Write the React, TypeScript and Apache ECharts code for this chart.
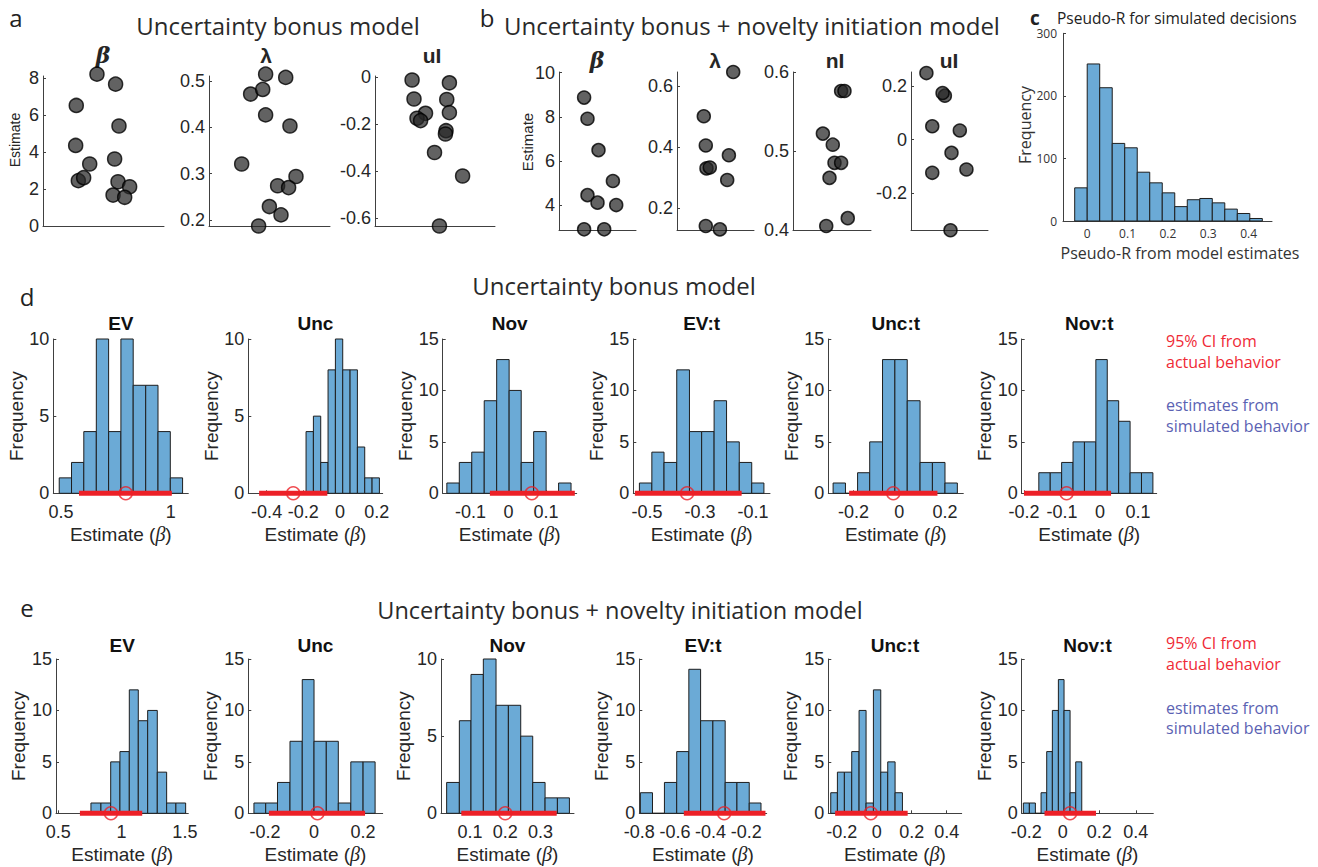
import React, { useEffect, useRef } from 'react';
import * as echarts from 'echarts';

// ---------------- Panel a : Uncertainty bonus model (parameter estimates) ----------------
const aBetaJitter = [0.446, 0.6, 0.275, 0.628, 0.27, 0.386, 0.592, 0.292, 0.336, 0.62, 0.716, 0.579, 0.675];
const aBetaValues = [8.2, 7.66, 6.51, 5.4, 4.35, 3.35, 3.62, 2.45, 2.61, 2.39, 2.12, 1.67, 1.55];
const aLambdaJitter = [0.468, 0.634, 0.344, 0.444, 0.468, 0.669, 0.27, 0.719, 0.567, 0.658, 0.499, 0.595, 0.41];
const aLambdaValues = [0.515, 0.508, 0.472, 0.482, 0.427, 0.403, 0.321, 0.294, 0.274, 0.27, 0.229, 0.211, 0.187];
const aUIJitter = [0.309, 0.62, 0.325, 0.598, 0.62, 0.421, 0.35, 0.38, 0.592, 0.587, 0.496, 0.73, 0.537];
const aUIValues = [-0.011, -0.023, -0.092, -0.094, -0.15, -0.153, -0.174, -0.184, -0.227, -0.241, -0.32, -0.42, -0.633];
const aBetaTicks = [0, 2, 4, 6, 8];
const aLambdaTicks = [0.2, 0.3, 0.4, 0.5];
const aUITicks = [-0.6, -0.4, -0.2, 0];

// ---------------- Panel b : Uncertainty bonus + novelty initiation model ----------------
const bBetaJitter = [0.326, 0.37, 0.513, 0.7, 0.37, 0.5, 0.743, 0.326, 0.587];
const bBetaValues = [8.87, 7.91, 6.49, 5.09, 4.45, 4.11, 4.0, 2.9, 2.9];
const bLambdaJitter = [0.73, 0.348, 0.374, 0.674, 0.383, 0.426, 0.652, 0.374, 0.557];
const bLambdaValues = [0.647, 0.502, 0.406, 0.374, 0.331, 0.334, 0.293, 0.142, 0.131];
const bNIJitter = [0.617, 0.66, 0.383, 0.51, 0.532, 0.617, 0.468, 0.702, 0.426];
const bNIValues = [0.576, 0.576, 0.522, 0.508, 0.485, 0.485, 0.466, 0.415, 0.405];
const bUIJitter = [0.2, 0.44, 0.41, 0.276, 0.634, 0.526, 0.72, 0.276, 0.513];
const bUIValues = [0.25, 0.165, 0.175, 0.05, 0.034, -0.05, -0.1125, -0.125, -0.341];
const bBetaTicks = [4, 6, 8, 10];
const bLambdaTicks = [0.2, 0.4, 0.6];
const bNITicks = [0.4, 0.5, 0.6];
const bUITicks = [-0.2, 0, 0.2];

// ---------------- Panel c : Pseudo-R histogram ----------------
const cEdges = [-0.031, 0, 0.031, 0.062, 0.093, 0.124, 0.155, 0.186, 0.217, 0.248, 0.279, 0.31, 0.341, 0.372, 0.403, 0.434];
const cCounts = [53, 251, 213, 124, 117, 78, 61, 45, 23, 34, 36, 29, 19, 12, 4];
const cXTicks = [0, 0.1, 0.2, 0.3, 0.4];
const cYTicks = [0, 100, 200, 300];

// ---------------- Row d : Uncertainty bonus model ----------------
const dTitles = ['EV', 'Unc', 'Nov', 'EV:t', 'Unc:t', 'Nov:t'];
const dEVEdges = [0.492, 0.548, 0.604, 0.661, 0.717, 0.773, 0.829, 0.886, 0.942, 0.998, 1.054];
const dEVCounts = [1, 2, 4, 10, 4, 10, 7, 7, 4, 1];
const dUncEdges = [-0.185, -0.145, -0.105, -0.065, -0.025, 0.015, 0.055, 0.095, 0.135, 0.175, 0.215];
const dUncCounts = [4, 5, 2, 8, 10, 8, 8, 3, 1, 1];
const dNovEdges = [-0.163, -0.13, -0.097, -0.064, -0.031, 0.002, 0.034, 0.067, 0.1, 0.133, 0.166];
const dNovCounts = [1, 3, 4, 9, 13, 10, 3, 6, 0, 1];
const dEVtEdges = [-0.529, -0.482, -0.436, -0.388, -0.34, -0.294, -0.247, -0.2, -0.152, -0.105, -0.059];
const dEVtCounts = [1, 4, 3, 12, 6, 6, 9, 5, 3, 1];
const dUnctEdges = [-0.289, -0.235, -0.182, -0.129, -0.073, -0.019, 0.035, 0.091, 0.145, 0.2, 0.254];
const dUnctCounts = [1, 0, 2, 5, 13, 13, 9, 3, 3, 1];
const dNovtEdges = [-0.161, -0.131, -0.101, -0.071, -0.041, -0.011, 0.019, 0.049, 0.079, 0.109, 0.139];
const dNovtCounts = [2, 2, 3, 5, 5, 13, 9, 7, 2, 2];
const dCILow = [0.582, -0.441, -0.049, -0.546, -0.219, -0.2];
const dCIHigh = [1.005, -0.069, 0.176, -0.143, 0.167, 0.029];
const dEstimate = [0.795, -0.255, 0.062, -0.349, -0.026, -0.088];
const dXMin = [0.465, -0.5, -0.174, -0.552, -0.31, -0.206];
const dXMax = [1.08, 0.233, 0.181, -0.036, 0.28, 0.149];
const dXTicks = [[0.5, 1], [-0.4, -0.2, 0, 0.2], [-0.1, 0, 0.1], [-0.5, -0.3, -0.1], [-0.2, 0, 0.2], [-0.2, -0.1, 0, 0.1]];
const dYMax = [10, 10, 15, 15, 15, 15];

// ---------------- Row e : Uncertainty bonus + novelty initiation model ----------------
const eTitles = ['EV', 'Unc', 'Nov', 'EV:t', 'Unc:t', 'Nov:t'];
const eEVEdges = [0.758, 0.837, 0.914, 0.987, 1.061, 1.132, 1.206, 1.282, 1.356, 1.429, 1.506];
const eEVCounts = [1, 1, 5, 6, 12, 9, 10, 4, 1, 1];
const eUncEdges = [-0.245, -0.197, -0.149, -0.098, -0.048, 0, 0.05, 0.099, 0.15, 0.2, 0.249];
const eUncCounts = [1, 1, 3, 7, 13, 7, 7, 1, 5, 5];
const eNovEdges = [0.034, 0.07, 0.103, 0.138, 0.174, 0.209, 0.244, 0.278, 0.313, 0.348, 0.382];
const eNovCounts = [2, 6, 9, 10, 7, 7, 5, 2, 1, 1];
const eEVtEdges = [-0.794, -0.726, -0.659, -0.59, -0.522, -0.456, -0.387, -0.318, -0.252, -0.183, -0.117];
const eEVtCounts = [2, 0, 3, 6, 14, 9, 9, 3, 3, 1];
const eUnctEdges = [-0.263, -0.225, -0.185, -0.143, -0.101, -0.061, -0.019, 0.023, 0.063, 0.105, 0.147];
const eUnctCounts = [2, 4, 4, 6, 10, 1, 12, 4, 5, 2];
const eNovtEdges = [-0.216, -0.183, -0.15, -0.119, -0.088, -0.057, -0.024, 0.007, 0.04, 0.071, 0.104];
const eNovtCounts = [1, 1, 0, 2, 6, 10, 13, 10, 2, 5];
const eCILow = [0.671, -0.184, 0.0755, -0.55, -0.238, -0.1];
const eCIHigh = [1.163, 0.208, 0.346, -0.092, 0.177, 0.182];
const eEstimate = [0.916, 0.014, 0.2, -0.324, -0.034, 0.04];
const eXMin = [0.482, -0.268, 0.018, -0.8, -0.277, -0.225];
const eXMax = [1.527, 0.28, 0.395, -0.085, 0.486, 0.496];
const eXTicks = [[0.5, 1, 1.5], [-0.2, 0, 0.2], [0.1, 0.2, 0.3], [-0.8, -0.6, -0.4, -0.2], [-0.2, 0, 0.2, 0.4], [-0.2, 0, 0.2, 0.4]];
const eYMax = [15, 15, 10, 15, 15, 15];

const yTicks10 = [0, 5, 10];
const yTicks15 = [0, 5, 10, 15];

// ---------------- styles ----------------
const FONT_H = '"Liberation Sans", Arial, Helvetica, sans-serif';
const FONT_M = '"Open Sans", "Noto Sans", sans-serif';
const AX = '#404040';
const TXT = '#262626';
const RED = '#ec2027';
const BAR_FILL = '#6baad6';
const BAR_EDGE = '#1e1e1e';

type Rect = { left: number; top: number; width: number; height: number };
type AxisCfg = { min: number; max: number; ticks?: number[]; fontSize?: number; font?: string; color?: string; margin?: number };

const fmt = (v: number) => String(Math.round(v * 1000) / 1000);

function buildOption() {
  const grids: any[] = [];
  const xAxes: any[] = [];
  const yAxes: any[] = [];
  const series: any[] = [];
  const graphics: any[] = [];

  const makeAxis = (idx: number, c: AxisCfg, pos: string) => ({
    type: 'value',
    gridIndex: idx,
    position: pos,
    min: c.min,
    max: c.max,
    axisLine: { show: true, onZero: false, lineStyle: { color: AX, width: 1 } },
    axisTick: c.ticks
      ? { show: true, inside: true, length: 3, customValues: c.ticks, lineStyle: { color: AX, width: 1 } }
      : { show: false },
    axisLabel: c.ticks
      ? {
          show: true,
          customValues: c.ticks,
          fontSize: c.fontSize ?? 18,
          fontFamily: c.font ?? FONT_H,
          color: c.color ?? TXT,
          margin: c.margin ?? 5,
          formatter: (v: number) => fmt(v),
        }
      : { show: false },
    splitLine: { show: false },
  });

  const addGrid = (r: Rect, xc: AxisCfg, yc: AxisCfg) => {
    const idx = grids.length;
    grids.push({ left: r.left, top: r.top, width: r.width, height: r.height, containLabel: false, outerBoundsMode: 'none' });
    xAxes.push(makeAxis(idx, xc, 'bottom'));
    yAxes.push(makeAxis(idx, yc, 'left'));
    return idx;
  };

  const text = (x: number, y: number, t: string, o: any = {}) => {
    graphics.push({
      type: 'text',
      x,
      y,
      rotation: o.rot ?? 0,
      silent: true,
      style: {
        text: t,
        fill: o.color ?? TXT,
        fontSize: o.size ?? 18,
        fontFamily: o.font ?? FONT_H,
        fontWeight: o.weight ?? 'normal',
        fontStyle: o.style ?? 'normal',
        align: o.align ?? 'center',
        verticalAlign: 'middle',
        rich: o.rich,
      },
    });
  };

  const addHist = (gi: number, edges: number[], counts: number[]) => {
    series.push({
      type: 'custom',
      xAxisIndex: gi,
      yAxisIndex: gi,
      silent: true,
      clip: false,
      encode: { x: [0, 1], y: 2 },
      data: counts.map((c, i) => [edges[i], edges[i + 1], c]),
      renderItem: (_p: any, api: any) => {
        const p0 = api.coord([api.value(0), api.value(2)]);
        const p1 = api.coord([api.value(1), 0]);
        return {
          type: 'rect',
          shape: { x: p0[0], y: p0[1], width: p1[0] - p0[0], height: p1[1] - p0[1] },
          style: { fill: BAR_FILL, stroke: BAR_EDGE, lineWidth: 1 },
        };
      },
    });
  };

  const addCI = (gi: number, lo: number, hi: number, est: number) => {
    series.push({
      type: 'line',
      xAxisIndex: gi,
      yAxisIndex: gi,
      silent: true,
      clip: false,
      symbol: 'none',
      z: 5,
      lineStyle: { color: RED, width: 5, cap: 'butt' },
      data: [[lo, 0], [hi, 0]],
    });
    series.push({
      type: 'scatter',
      xAxisIndex: gi,
      yAxisIndex: gi,
      silent: true,
      clip: false,
      z: 6,
      symbol: 'circle',
      symbolSize: 13,
      itemStyle: { color: 'rgba(255,255,255,0)', borderColor: RED, borderWidth: 1.5 },
      data: [[est, 0]],
    });
  };

  const addDots = (gi: number, xs: number[], ys: number[], size: number) => {
    series.push({
      type: 'scatter',
      xAxisIndex: gi,
      yAxisIndex: gi,
      silent: true,
      clip: false,
      symbolSize: size,
      itemStyle: { color: 'rgba(38,38,38,0.9)', borderColor: '#000', borderWidth: 1.5 },
      data: xs.map((x, i) => [x, ys[i]]),
    });
  };

  // ---------- Panel a ----------
  const aTop = 76, aH = 150;
  const aPanels = [
    { r: { left: 43, top: aTop, width: 121, height: aH }, min: 0, max: 8.1, ticks: aBetaTicks, xs: aBetaJitter, ys: aBetaValues, title: 'β', tx: 103 },
    { r: { left: 209, top: aTop, width: 121, height: aH }, min: 0.187, max: 0.511, ticks: aLambdaTicks, xs: aLambdaJitter, ys: aLambdaValues, title: 'λ', tx: 266 },
    { r: { left: 375, top: aTop, width: 120, height: aH }, min: -0.633, max: 0.006, ticks: aUITicks, xs: aUIJitter, ys: aUIValues, title: 'uI', tx: 432 },
  ];
  aPanels.forEach((p) => {
    const gi = addGrid(p.r, { min: 0, max: 1 }, { min: p.min, max: p.max, ticks: p.ticks, fontSize: 18, margin: 4 });
    addDots(gi, p.xs, p.ys, 14);
    const isBeta = p.title === 'β';
    text(p.tx, 55, p.title, {
      size: isBeta ? 22 : 21,
      weight: 'bold',
      style: isBeta ? 'italic' : 'normal',
      font: isBeta ? '"DejaVu Serif", serif' : FONT_H,
    });
  });
  text(15, 140, 'Estimate', { rot: Math.PI / 2, size: 14 });
  text(16, 17, 'a', { font: FONT_M, size: 24, color: '#222' });
  text(278, 25, 'Uncertainty bonus model', { font: FONT_M, size: 24, color: '#2a2a2a' });

  // ---------- Panel b ----------
  const bTop = 72, bH = 158;
  const bPanels = [
    { r: { left: 559, top: bTop, width: 77, height: bH }, min: 2.87, max: 10.03, ticks: bBetaTicks, xs: bBetaJitter, ys: bBetaValues, title: 'β', tx: 597 },
    { r: { left: 677, top: bTop, width: 77, height: bH }, min: 0.129, max: 0.647, ticks: bLambdaTicks, xs: bLambdaJitter, ys: bLambdaValues, title: 'λ', tx: 715 },
    { r: { left: 793, top: bTop, width: 78, height: bH }, min: 0.4, max: 0.6, ticks: bNITicks, xs: bNIJitter, ys: bNIValues, title: 'nI', tx: 835 },
    { r: { left: 911, top: bTop, width: 77, height: bH }, min: -0.34, max: 0.254, ticks: bUITicks, xs: bUIJitter, ys: bUIValues, title: 'uI', tx: 949 },
  ];
  bPanels.forEach((p) => {
    const gi = addGrid(p.r, { min: 0, max: 1 }, { min: p.min, max: p.max, ticks: p.ticks, fontSize: 18, margin: 4 });
    addDots(gi, p.xs, p.ys, 13);
    const isBeta = p.title === 'β';
    text(p.tx, 60, p.title, {
      size: isBeta ? 22 : 21,
      weight: 'bold',
      style: isBeta ? 'italic' : 'normal',
      font: isBeta ? '"DejaVu Serif", serif' : FONT_H,
    });
  });
  text(527, 142, 'Estimate', { rot: Math.PI / 2, size: 15 });
  text(487, 17, 'b', { font: FONT_M, size: 24, color: '#222' });
  text(752, 25, 'Uncertainty bonus + novelty initiation model', { font: FONT_M, size: 24, color: '#2a2a2a' });

  // ---------- Panel c ----------
  {
    const gi = addGrid(
      { left: 1063, top: 33.3, width: 209, height: 187.7 },
      { min: -0.06, max: 0.458, ticks: cXTicks, fontSize: 12, font: FONT_M, color: '#333', margin: 6 },
      { min: 0, max: 300, ticks: cYTicks, fontSize: 12, font: FONT_M, color: '#333', margin: 6 }
    );
    addHist(gi, cEdges, cCounts);
    text(1035, 18, 'c', { font: FONT_M, size: 19, weight: 'bold', color: '#222' });
    text(1057, 18, 'Pseudo-R for simulated decisions', { font: FONT_M, size: 15.5, align: 'left', color: '#222' });
    text(1025, 125, 'Frequency', { font: FONT_M, size: 16, rot: Math.PI / 2, color: '#333' });
    text(1180, 253, 'Pseudo-R from model estimates', { font: FONT_M, size: 16, color: '#333' });
  }

  const xlabelRich = { i: { fontStyle: 'italic', fontFamily: '"Liberation Serif", serif', fontSize: 20, fill: TXT } };

  // ---------- Row d ----------
  const dRects: Rect[] = [
    { left: 53.3, top: 339, width: 135, height: 154.3 },
    { left: 248.3, top: 339, width: 134.4, height: 154.3 },
    { left: 442.7, top: 339, width: 134, height: 154.3 },
    { left: 633.3, top: 339, width: 136.7, height: 154.3 },
    { left: 828.3, top: 339, width: 135, height: 154.3 },
    { left: 1021.7, top: 339, width: 135, height: 154.3 },
  ];
  const dEdges = [dEVEdges, dUncEdges, dNovEdges, dEVtEdges, dUnctEdges, dNovtEdges];
  const dCounts = [dEVCounts, dUncCounts, dNovCounts, dEVtCounts, dUnctCounts, dNovtCounts];
  dRects.forEach((r, k) => {
    const gi = addGrid(
      r,
      { min: dXMin[k], max: dXMax[k], ticks: dXTicks[k], fontSize: 18, margin: 10 },
      { min: 0, max: dYMax[k], ticks: dYMax[k] === 10 ? yTicks10 : yTicks15, fontSize: 18, margin: 4 }
    );
    addHist(gi, dEdges[k], dCounts[k]);
    addCI(gi, dCILow[k], dCIHigh[k], dEstimate[k]);
    const cx = r.left + r.width / 2;
    text(cx, 323, dTitles[k], { size: 19, weight: 'bold', color: '#111' });
    text(cx, 534, 'Estimate ({i|β})', { size: 19, rich: xlabelRich });
    text(r.left - 37, r.top + r.height / 2, 'Frequency', { size: 19, rot: Math.PI / 2 });
  });
  text(27, 296, 'd', { font: FONT_M, size: 24, color: '#222' });
  text(614, 285, 'Uncertainty bonus model', { font: FONT_M, size: 24, color: '#2a2a2a' });
  text(1166, 341, '95% CI from', { font: FONT_M, size: 16, color: '#ef2a36', align: 'left' });
  text(1166, 362, 'actual behavior', { font: FONT_M, size: 16, color: '#ef2a36', align: 'left' });
  text(1166, 405, 'estimates from', { font: FONT_M, size: 16, color: '#5b62b3', align: 'left' });
  text(1166, 426, 'simulated behavior', { font: FONT_M, size: 16, color: '#5b62b3', align: 'left' });

  // ---------- Row e ----------
  const eRects: Rect[] = [
    { left: 56, top: 659, width: 132.3, height: 154.3 },
    { left: 248.3, top: 659, width: 134.4, height: 154.3 },
    { left: 441, top: 659, width: 133, height: 154.3 },
    { left: 639.3, top: 659, width: 127.4, height: 154.3 },
    { left: 828.3, top: 659, width: 133.4, height: 154.3 },
    { left: 1021.7, top: 659, width: 131.6, height: 154.3 },
  ];
  const eEdges = [eEVEdges, eUncEdges, eNovEdges, eEVtEdges, eUnctEdges, eNovtEdges];
  const eCounts = [eEVCounts, eUncCounts, eNovCounts, eEVtCounts, eUnctCounts, eNovtCounts];
  eRects.forEach((r, k) => {
    const gi = addGrid(
      r,
      { min: eXMin[k], max: eXMax[k], ticks: eXTicks[k], fontSize: 18, margin: 10 },
      { min: 0, max: eYMax[k], ticks: eYMax[k] === 10 ? yTicks10 : yTicks15, fontSize: 18, margin: 4 }
    );
    addHist(gi, eEdges[k], eCounts[k]);
    addCI(gi, eCILow[k], eCIHigh[k], eEstimate[k]);
    const cx = r.left + r.width / 2;
    text(cx, 645, eTitles[k], { size: 19, weight: 'bold', color: '#111' });
    text(cx, 854, 'Estimate ({i|β})', { size: 19, rich: xlabelRich });
    text(r.left - 37.5, r.top + r.height / 2, 'Frequency', { size: 19, rot: Math.PI / 2 });
  });
  text(27, 607, 'e', { font: FONT_M, size: 24, color: '#222' });
  text(620, 610, 'Uncertainty bonus + novelty initiation model', { font: FONT_M, size: 23.5, color: '#2a2a2a' });
  text(1166, 643, '95% CI from', { font: FONT_M, size: 16, color: '#ef2a36', align: 'left' });
  text(1166, 664, 'actual behavior', { font: FONT_M, size: 16, color: '#ef2a36', align: 'left' });
  text(1166, 708, 'estimates from', { font: FONT_M, size: 16, color: '#5b62b3', align: 'left' });
  text(1166, 728, 'simulated behavior', { font: FONT_M, size: 16, color: '#5b62b3', align: 'left' });

  return {
    animation: false,
    backgroundColor: '#ffffff',
    grid: grids,
    xAxis: xAxes,
    yAxis: yAxes,
    series,
    graphic: { elements: graphics },
  };
}

export default function App() {
  const ref = useRef<HTMLDivElement>(null);
  useEffect(() => {
    if (!ref.current) return;
    const chart = echarts.init(ref.current, undefined, { renderer: 'svg' });
    chart.setOption(buildOption() as any);
    return () => chart.dispose();
  }, []);
  return (
    <div
      ref={ref}
      style={{ position: 'fixed', left: 0, top: 0, width: 1318, height: 867, background: '#fff' }}
    />
  );
}
